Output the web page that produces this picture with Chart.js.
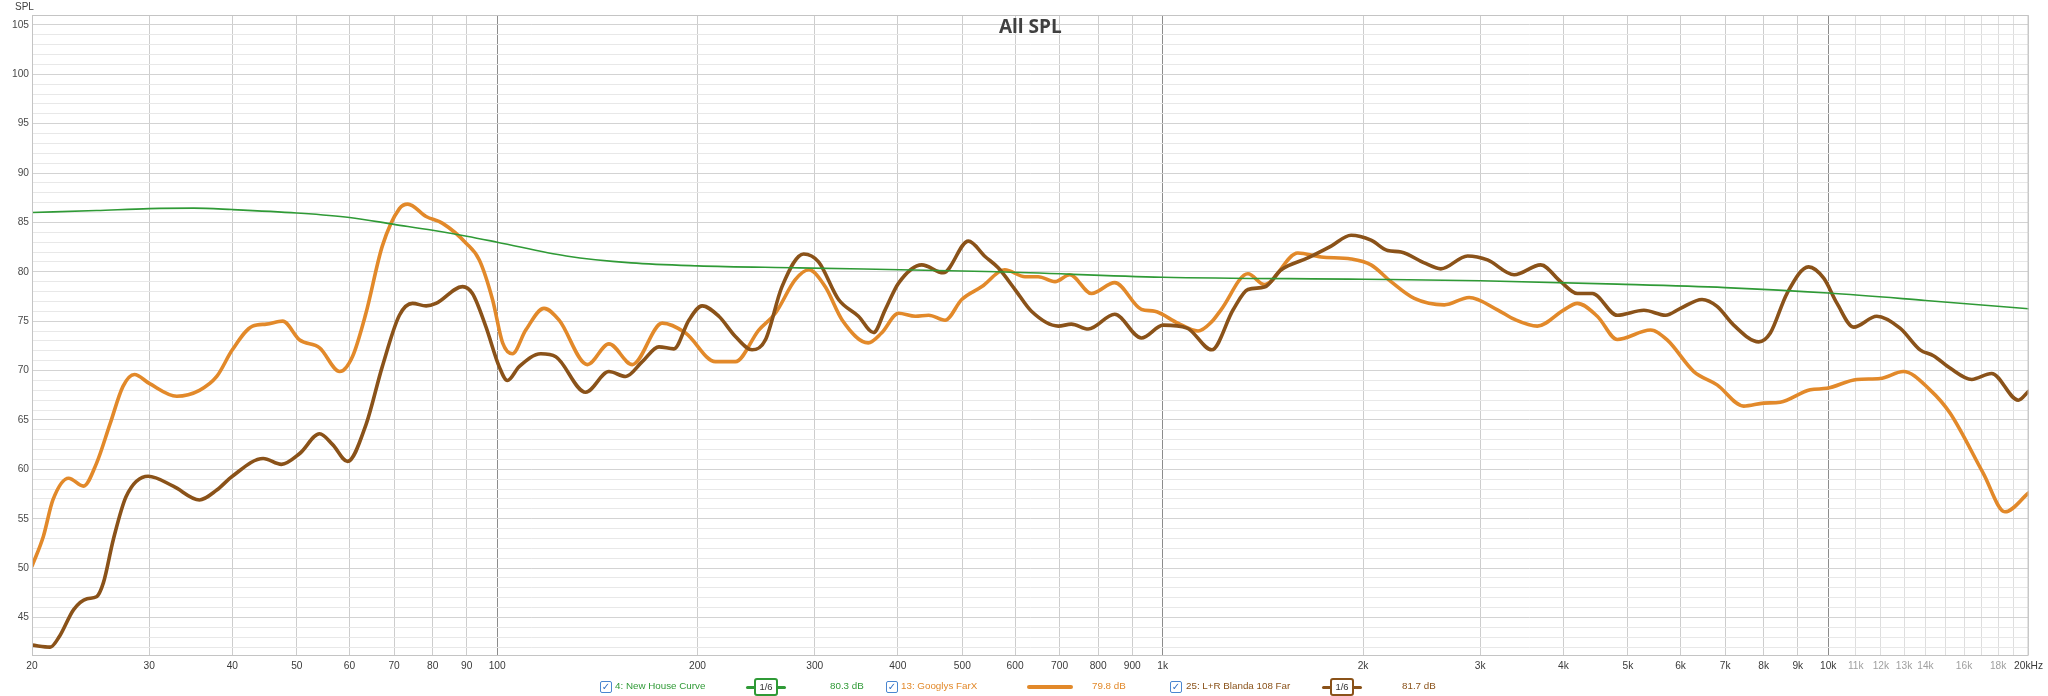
<!DOCTYPE html>
<html>
<head>
<meta charset="utf-8">
<script src="https://cdn.jsdelivr.net/npm/chart.js@4.4.1/dist/chart.umd.min.js"></script>
<style>
    html, body { margin: 0; padding: 0; background: #fff; }
    #wrap { position: relative; width: 2048px; height: 696px; overflow: hidden; }
    #chart { position: absolute; left: 0; top: 0; }
    .lg { position: absolute; top: 680px; height: 14px; line-height: 14px; white-space: nowrap;
          font: 9.8px "Liberation Sans", Arial, sans-serif; }
    .cb { width: 10px; height: 10px; top: 681px; border: 1px solid #4a86d0; border-radius: 2px;
          color: #2f6fc4; font: bold 10px "DejaVu Sans", sans-serif; line-height: 10px; text-align: center; }
    .bar { position: absolute; left: 0; right: 0; top: 6px; height: 3px; border-radius: 2px; }
    .box { position: absolute; top: -2px; height: 14px; width: 20px; background: #fff; border: 2px solid;
           border-radius: 3px; font: 9.5px "Liberation Sans", sans-serif; line-height: 14px; text-align: center; }
</style>
</head>
<body>
<div id="wrap">
    <canvas id="chart" width="2048" height="696"></canvas>
</div>
<script>
// 4: New House Curve
const houseFreq = [20, 25, 30, 35, 40, 50, 60, 70, 80, 90, 100, 127, 159, 200, 284, 566, 1000, 2000, 3000, 4820, 7000, 10000, 14000, 20000];
const houseDb = [86.0, 86.2, 86.4, 86.45, 86.3, 85.95, 85.5, 84.8, 84.2, 83.6, 83.0, 81.6, 80.9, 80.6, 80.4, 80.0, 79.45, 79.25, 79.1, 78.75, 78.4, 77.85, 77.1, 76.25];

// 13: Googlys FarX
const farxFreq = [20, 20.8, 21.5, 22.7, 23.9, 25, 26.2, 27.4, 28.5, 30, 33, 35.7, 37.9, 40, 42.9, 45, 47.6, 50.5, 54.1, 58,
    60.6, 63.5, 67.2, 71.3, 73.4, 78.2, 82.8, 89.8, 94, 98.4, 101.9, 105.4, 110.4, 117.6, 123.9, 136.6, 147.2, 159.6, 177, 191.9,
    212.8, 228, 247.2, 261.8, 280.5, 294, 311, 330, 361, 378, 401, 425, 445, 471, 499, 535, 579, 621, 650, 689,
    725, 782, 847, 929, 973, 1054, 1130, 1183, 1225, 1343, 1422, 1596, 1730, 1919, 2056, 2203, 2388, 2649, 2887, 3184,
    3373, 3655, 4008, 4198, 4498, 4820, 5408, 5728, 6281, 6808, 7464, 7998, 8472, 9397, 9955, 11040, 11970, 12970, 14220, 15240,
    17100, 18430, 20000];
const farxDb = [50.2, 53.2, 56.9, 59.1, 58.3, 60.6, 64.6, 68.4, 69.6, 68.7, 67.4, 68.0, 69.4, 72.1, 74.5, 74.7, 75.0, 73.1, 72.3, 69.9,
    71.4, 75.8, 82.6, 86.4, 86.85, 85.6, 84.9, 82.9, 81.2, 77.2, 72.8, 71.7, 74.1, 76.3, 75.1, 70.6, 72.7, 70.6, 74.8, 73.8,
    70.9, 70.9, 74.1, 75.8, 79.2, 80.2, 78.5, 75.1, 72.8, 73.8, 75.8, 75.5, 75.6, 75.1, 77.2, 78.5, 80.2, 79.5, 79.5, 79.0,
    79.7, 77.8, 78.9, 76.2, 76.0, 74.8, 74.0, 74.9, 76.2, 79.8, 78.7, 81.9, 81.5, 81.3, 80.7, 79.0, 77.3, 76.65, 77.4, 76.15,
    75.2, 74.5, 76.15, 76.8, 75.5, 73.15, 74.1, 73.1, 69.9, 68.55, 66.4, 66.7, 66.8, 68.05, 68.2, 69.1, 69.2, 69.9, 68.05, 65.7,
    59.6, 55.7, 57.6];

// 25: L+R Blanda 108 Far
const blandaFreq = [20, 21.3, 22, 23.1, 24.2, 25, 25.6, 26.5, 27.7, 29.9, 32.6, 35.7, 37.9, 40, 44.5, 47.4, 50.5, 54.1, 56.6, 59.6,
    63.5, 67.2, 71.3, 74.6, 78.2, 80.9, 88.7, 91.8, 96.1, 100.7, 103.6, 107.9, 116.3, 122.5, 135.8, 147.2, 156, 165.2, 175, 184.3,
    194.1, 203.2, 215.3, 228, 241.5, 252.9, 267.9, 288.7, 304, 325.8, 349, 367.7, 382.8, 401, 434.5, 468, 510.5, 540.8, 566, 600,
    635, 697, 729, 773, 847, 929, 1002, 1088, 1185, 1276, 1343, 1422, 1507, 1652, 1791, 1919, 2056, 2178, 2281, 2472,
    2618, 2871, 3076, 3373, 3698, 3963, 4198, 4422, 4820, 5285, 5695, 5998, 6462, 6808, 7211, 7863, 8185, 8670, 9344, 9845,
    10310, 10920, 11830, 12820, 13740, 14390, 15240, 16430, 17600, 19300, 20000];
const blandaDb = [42.2, 42.0, 43.1, 45.8, 46.9, 47.1, 48.5, 52.9, 57.25, 59.3, 58.3, 56.9, 57.9, 59.3, 61.1, 60.5, 61.6, 63.6, 62.5, 60.8,
    64.5, 70.4, 75.6, 76.8, 76.55, 76.8, 78.5, 77.8, 74.5, 70.4, 69.0, 70.4, 71.7, 71.4, 67.8, 69.9, 69.4, 70.9, 72.4, 72.2,
    75.1, 76.55, 75.5, 73.45, 72.1, 73.1, 78.5, 81.8, 81.0, 77.2, 75.5, 73.85, 76.15, 78.85, 80.7, 79.9, 83.1, 81.55, 80.4, 78.2,
    76.0, 74.5, 74.7, 74.2, 75.7, 73.3, 74.6, 74.3, 72.1, 76.15, 78.2, 78.45, 80.2, 81.4, 82.6, 83.7, 83.2, 82.15, 82.0, 80.9,
    80.3, 81.6, 81.2, 79.7, 80.7, 79.0, 77.8, 77.8, 75.6, 76.1, 75.6, 76.3, 77.2, 76.5, 74.6, 72.9, 73.8, 77.8, 80.5, 79.35,
    76.8, 74.4, 75.5, 74.3, 72.1, 71.5, 70.25, 69.1, 69.7, 67.0, 67.9];

const seriesNames = ["4: New House Curve", "13: Googlys FarX", "25: L+R Blanda 108 Far"];
const seriesLevels = ["80.3 dB", "79.8 dB", "81.7 dB"];
const smoothing = ["1/6", null, "1/6"];

const freqTicks = [20, 30, 40, 50, 60, 70, 80, 90, 100, 200, 300, 400, 500, 600, 700, 800, 900,
    1000, 2000, 3000, 4000, 5000, 6000, 7000, 8000, 9000, 10000, 11000, 12000, 13000, 14000, 15000,
    16000, 17000, 18000, 19000, 20000];
const unlabeledFreqs = [15000, 17000, 19000];
const dbTicks = [42, 43, 44, 45, 46, 47, 48, 49, 50, 51, 52, 53, 54, 55, 56, 57, 58, 59, 60, 61, 62, 63, 64, 65, 66, 67, 68, 69, 70,
    71, 72, 73, 74, 75, 76, 77, 78, 79, 80, 81, 82, 83, 84, 85, 86, 87, 88, 89, 90, 91, 92, 93, 94, 95, 96, 97, 98, 99, 100,
    101, 102, 103, 104, 105, 106];

const colors = ["#2f9a36", "#e2892a", "#8a5219"];
const tickFont = "'Liberation Sans', Arial, sans-serif";

function toPoints(freqs, dbs) {
    return freqs.map((f, i) => ({ x: f, y: dbs[i] }));
}

function freqLabel(v) {
    if (unlabeledFreqs.includes(v)) return "";
    if (v === 20000) return "20kHz";
    if (v >= 1000) return v / 1000 + "k";
    return String(v);
}

const overlay = {
    id: "overlay",
    afterDraw(chart) {
        const { ctx, chartArea: a } = chart;
        ctx.save();
        ctx.strokeStyle = "#c4c4c4";
        ctx.lineWidth = 1;
        ctx.strokeRect(a.left + 0.5, a.top + 0.5, a.right - a.left - 1, a.bottom - a.top);
        ctx.fillStyle = "#404040";
        ctx.textAlign = "center";
        ctx.textBaseline = "middle";
        ctx.font = "bold 19px 'Open Sans', sans-serif";
        ctx.fillText("All SPL", (a.left + a.right) / 2, 28);
        ctx.font = "10px " + tickFont;
        ctx.textAlign = "left";
        ctx.fillText("SPL", 15, 7);
        ctx.restore();
    },
};

const chart = new Chart(document.getElementById("chart"), {
    type: "line",
    data: {
        datasets: [
            {
                label: seriesNames[0],
                data: toPoints(houseFreq, houseDb),
                borderColor: colors[0],
                borderWidth: 1.6,
                order: 0,
            },
            {
                label: seriesNames[2],
                data: toPoints(blandaFreq, blandaDb),
                borderColor: colors[2],
                borderWidth: 3.6,
                order: 1,
            },
            {
                label: seriesNames[1],
                data: toPoints(farxFreq, farxDb),
                borderColor: colors[1],
                borderWidth: 3.6,
                order: 2,
            },
        ],
    },
    options: {
        responsive: false,
        animation: false,
        devicePixelRatio: 1,
        layout: { padding: { top: 15, right: 16, left: 0, bottom: 0 } },
        elements: {
            point: { radius: 0 },
            line: { cubicInterpolationMode: "monotone", borderCapStyle: "round", borderJoinStyle: "round" },
        },
        plugins: {
            legend: { display: false },
            tooltip: { enabled: false },
        },
        scales: {
            x: {
                type: "logarithmic",
                min: 20,
                max: 20000,
                afterBuildTicks: (scale) => {
                    scale.ticks = freqTicks.map((v) => ({ value: v }));
                },
                afterFit: (scale) => {
                    scale.height = 41;
                },
                border: { display: false },
                grid: {
                    drawTicks: false,
                    color: (ctx) => {
                        const v = ctx.tick && ctx.tick.value;
                        if (v === 100 || v === 1000 || v === 10000) return "#8c8c8c";
                        if (v > 10000 && v < 20000) return "#dedede";
                        return "#cdcdcd";
                    },
                },
                ticks: {
                    autoSkip: false,
                    maxRotation: 0,
                    padding: 5,
                    font: { family: tickFont, size: 10.2 },
                    color: (ctx) => {
                        const v = ctx.tick && ctx.tick.value;
                        return v > 10000 && v < 20000 ? "#a0a0a0" : "#3a3a3a";
                    },
                    callback: (value) => freqLabel(value),
                },
            },
            y: {
                min: 41.2,
                max: 106,
                afterBuildTicks: (scale) => {
                    scale.ticks = dbTicks.map((v) => ({ value: v }));
                },
                afterFit: (scale) => {
                    scale.width = 32;
                },
                border: { display: false },
                grid: {
                    drawTicks: false,
                    color: (ctx) => {
                        const v = ctx.tick && ctx.tick.value;
                        return v % 5 === 0 ? "#d3d3d3" : "#e8e8e8";
                    },
                },
                ticks: {
                    autoSkip: false,
                    padding: 3,
                    font: { family: tickFont, size: 10.2 },
                    color: "#4a4a4a",
                    callback: (value) => (value % 5 === 0 && value <= 105 ? String(value) : ""),
                },
            },
        },
    },
    plugins: [overlay],
});

// legend row under the plot
const legendLayout = [
    { box: 600, name: 615, icon: 746, iconW: 40, level: 830 },
    { box: 886, name: 901, icon: 1027, iconW: 46, level: 1092 },
    { box: 1170, name: 1186, icon: 1322, iconW: 40, level: 1402 },
];
const wrap = document.getElementById("wrap");
seriesNames.forEach((name, i) => {
    const pos = legendLayout[i];
    const color = colors[i];

    const cb = document.createElement("div");
    cb.className = "lg cb";
    cb.style.left = pos.box + "px";
    cb.textContent = "\u2713";
    wrap.appendChild(cb);

    const label = document.createElement("div");
    label.className = "lg";
    label.style.left = pos.name + "px";
    label.style.color = color;
    label.textContent = name;
    wrap.appendChild(label);

    const icon = document.createElement("div");
    icon.className = "lg";
    icon.style.left = pos.icon + "px";
    icon.style.width = pos.iconW + "px";
    const bar = document.createElement("div");
    bar.className = "bar";
    bar.style.background = color;
    if (!smoothing[i]) {
        bar.style.height = "4px";
        bar.style.top = "5px";
    }
    icon.appendChild(bar);
    if (smoothing[i]) {
        const box = document.createElement("div");
        box.className = "box";
        box.style.left = (pos.iconW / 2 - 12) + "px";
        box.style.borderColor = color;
        box.style.color = "#333";
        box.textContent = smoothing[i];
        icon.appendChild(box);
    }
    wrap.appendChild(icon);

    const level = document.createElement("div");
    level.className = "lg";
    level.style.left = pos.level + "px";
    level.style.color = color;
    level.textContent = seriesLevels[i];
    wrap.appendChild(level);
});
</script>
</body>
</html>
